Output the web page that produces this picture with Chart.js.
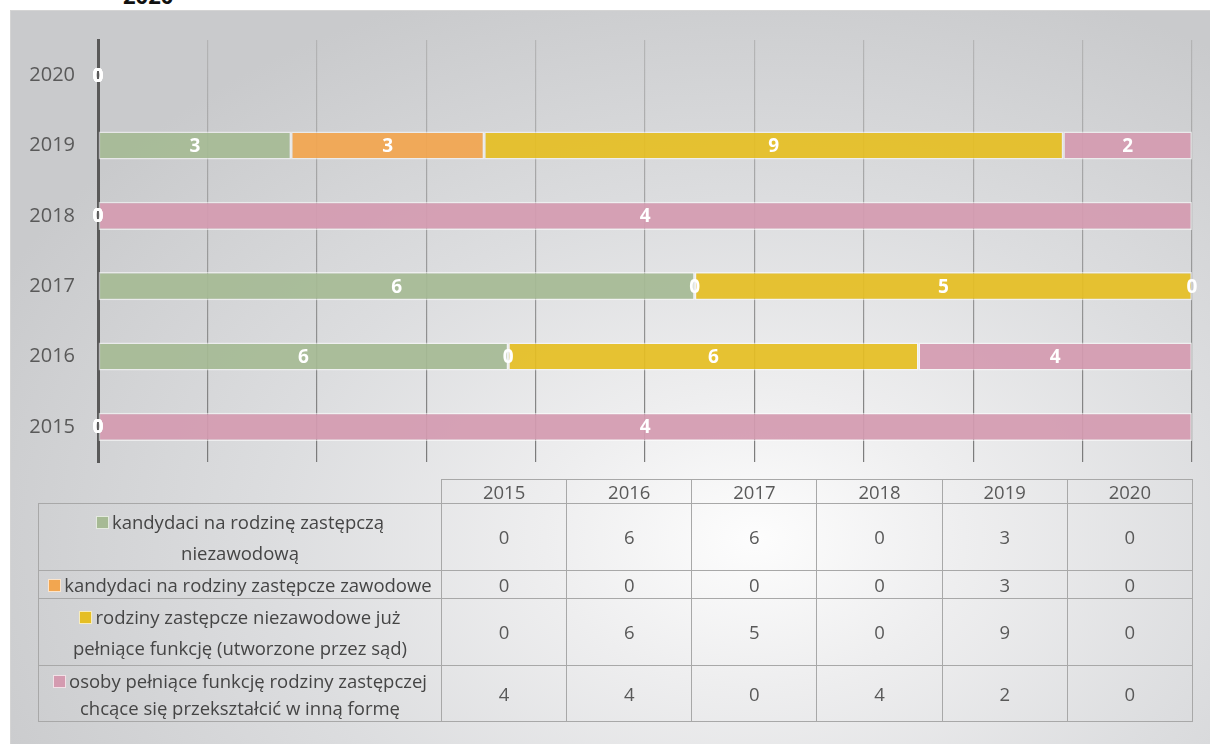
<!DOCTYPE html>
<html>
<head>
<meta charset="utf-8">
<script src="https://cdn.jsdelivr.net/npm/chart.js@4.4.1/dist/chart.umd.min.js"></script>
<style>
  html, body { margin:0; padding:0; background:#ffffff; width:1210px; height:744px; overflow:hidden; font-family:'Open Sans', sans-serif; }
  #title { position:absolute; left:123px; top:-16px; font: bold 22px 'Open Sans', sans-serif; color:#111; line-height:22px; white-space:nowrap; }
  #panel { position:absolute; left:10px; top:10px; width:1200px; height:734px;
    background: radial-gradient(ellipse 70% 80% at 62% 72%, #fdfdfd 0%, #eeeeef 25%, #dcdddf 58%, #c9cacc 100%);
    border-top:1px solid #d4d4d4; border-left:1px solid #d4d4d4; box-sizing:border-box; }
  #chartBox { position:absolute; left:10px; top:10px; width:1200px; height:479px; }
  #dataTable { position:absolute; left:38px; top:479px; border-collapse:collapse; table-layout:fixed; color:#595959; font-size:18.5px; }
  #dataTable td { border:1.5px solid #a8a8a8; text-align:center; vertical-align:middle; padding:0 2px; line-height:30px; white-space:nowrap; }
  #dataTable td.blank { border:none; }
  #dataTable td.legend { color:#454545; }
  .key { display:inline-block; width:11px; height:11px; margin-right:3px; border:1px solid rgba(255,255,255,0.7); vertical-align:0px; }
</style>
</head>
<body>
<div id="title">2020</div>
<div id="panel"></div>
<div id="chartBox"><canvas id="c" width="1200" height="479"></canvas></div>
<table id="dataTable"></table>
<script>
// ---- data ----
const categories = ['2015', '2016', '2017', '2018', '2019', '2020'];
const seriesLines = [
  ['kandydaci na rodzinę zastępczą', 'niezawodową'],
  ['kandydaci na rodziny zastępcze zawodowe'],
  ['rodziny zastępcze niezawodowe już', 'pełniące funkcję (utworzone przez sąd)'],
  ['osoby pełniące funkcję rodziny zastępczej', 'chcące się przekształcić w inną formę']
];
const candidatesNonProfessional = [0, 6, 6, 0, 3, 0];
const candidatesProfessional    = [0, 0, 0, 0, 3, 0];
const courtFamilies             = [0, 6, 5, 0, 9, 0];
const wantingTransform          = [4, 4, 0, 4, 2, 0];
const seriesValues = [candidatesNonProfessional, candidatesProfessional, courtFamilies, wantingTransform];
const seriesColors = ['rgba(166,186,148,0.93)', 'rgba(242,166,80,0.93)', 'rgba(229,190,36,0.93)', 'rgba(212,155,176,0.93)'];
const keyColors = ['#a6ba94', '#f2a650', '#e5be24', '#d49bb0'];

const totals = categories.map((_, j) => seriesValues.reduce((s, arr) => s + arr[j], 0));
const datasets = seriesValues.map((vals, i) => ({
  label: seriesLines[i].join(' '),
  data: vals.map((v, j) => totals[j] ? v / totals[j] * 100 : 0),
  raw: vals,
  backgroundColor: seriesColors[i],
  borderColor: 'rgba(255,255,255,0.55)',
  borderWidth: 1.5,
  borderSkipped: false,
  barPercentage: 0.4,
  categoryPercentage: 1.0
}));

const valueLabels = {
  id: 'valueLabels',
  afterDatasetsDraw(chart) {
    const ctx = chart.ctx;
    ctx.save();
    ctx.font = 'bold 19px "Open Sans", sans-serif';
    ctx.fillStyle = '#ffffff';
    ctx.textAlign = 'center';
    ctx.textBaseline = 'middle';
    chart.data.datasets.forEach((ds, i) => {
      const meta = chart.getDatasetMeta(i);
      meta.data.forEach((el, j) => {
        const p = el.getProps(['x', 'y', 'base'], true);
        ctx.fillText(String(ds.raw[j]), (p.x + p.base) / 2, p.y + 1);
      });
    });
    ctx.restore();
  }
};

new Chart(document.getElementById('c'), {
  type: 'bar',
  data: { labels: categories, datasets },
  plugins: [valueLabels],
  options: {
    indexAxis: 'y',
    responsive: false,
    animation: false,
    devicePixelRatio: 1,
    layout: { padding: { left: 0, right: 18, top: 30, bottom: 4 } },
    plugins: { legend: { display: false }, tooltip: { enabled: false }, title: { display: false } },
    scales: {
      x: {
        stacked: true, min: 0, max: 100,
        ticks: { display: false, stepSize: 10 },
        border: { display: false },
        grid: {
          drawTicks: false, lineWidth: 1.2,
          color: (c) => {
            const a = c.chart.chartArea;
            if (!a) return '#b0b0b0';
            const g = c.chart.ctx.createLinearGradient(0, a.top, 0, a.bottom);
            g.addColorStop(0, 'rgba(170,170,170,0.7)');
            g.addColorStop(1, 'rgba(110,110,110,0.9)');
            return g;
          }
        },
        afterFit: (s) => { s.height = 0; }
      },
      y: {
        stacked: true, reverse: true,
        grid: { display: false },
        border: { display: true, color: '#595959', width: 3 },
        ticks: { color: '#595959', font: { family: 'Open Sans', size: 20 }, padding: 15 },
        afterFit: (s) => { s.width = 88; }
      }
    }
  }
});

// ---- data table ----
const table = document.getElementById('dataTable');
const colgroup = document.createElement('colgroup');
const c0 = document.createElement('col'); c0.style.width = '403px'; colgroup.appendChild(c0);
categories.forEach(() => { const c = document.createElement('col'); c.style.width = '125.17px'; colgroup.appendChild(c); });
table.appendChild(colgroup);
const head = document.createElement('tr');
head.style.height = '24px';
const blank = document.createElement('td'); blank.className = 'blank'; head.appendChild(blank);
categories.forEach(cat => { const td = document.createElement('td'); td.textContent = cat; td.style.lineHeight = '22px'; head.appendChild(td); });
table.appendChild(head);
const rowHeights = [67, 28, 67, 56];
const lineHeights = [31, 26, 31, 27];
seriesValues.forEach((vals, i) => {
  const tr = document.createElement('tr');
  tr.style.height = rowHeights[i] + 'px';
  const lt = document.createElement('td'); lt.className = 'legend';
  lt.style.lineHeight = lineHeights[i] + 'px';
  const key = document.createElement('span'); key.className = 'key'; key.style.background = keyColors[i];
  lt.appendChild(key);
  seriesLines[i].forEach((line, k) => {
    if (k > 0) lt.appendChild(document.createElement('br'));
    lt.appendChild(document.createTextNode(line));
  });
  tr.appendChild(lt);
  vals.forEach(v => { const td = document.createElement('td'); td.textContent = String(v); td.style.lineHeight = '24px'; tr.appendChild(td); });
  table.appendChild(tr);
});
</script>
</body>
</html>
